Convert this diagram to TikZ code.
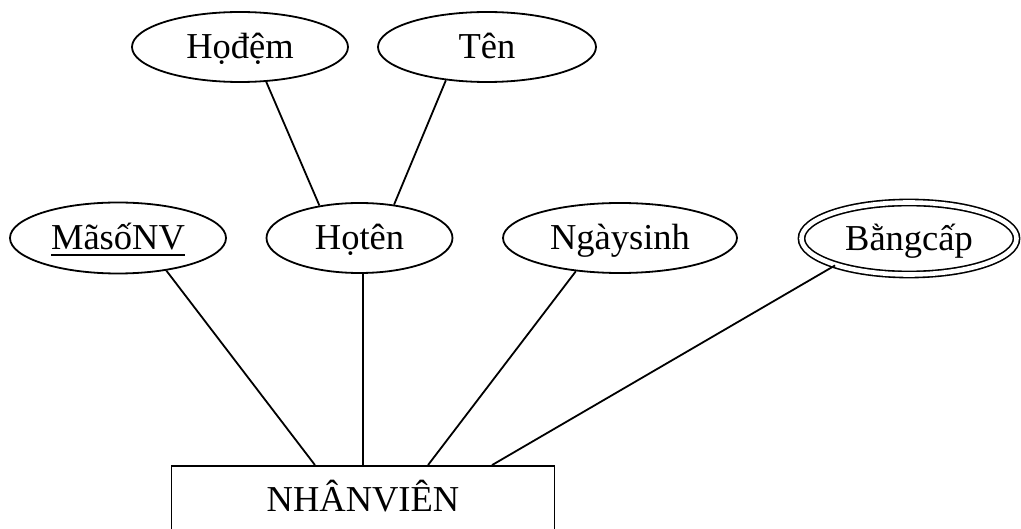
\documentclass[tikz,border=0pt]{standalone}
\usepackage{fontspec}
\setmainfont{Liberation Serif}
\usetikzlibrary{shapes.geometric}
\newcommand\keyline[1]{\setbox0\hbox{#1}\rlap{\rule[-6pt]{\wd0}{1.8pt}}\box0}
\begin{document}
\begin{tikzpicture}[x=1pt,y=-1pt,
  attr/.style={draw, ellipse, line width=1.8pt, inner sep=0pt,
    font=\fontsize{36.5}{40}\selectfont, text height=24pt, text depth=0pt},
  multi/.style={attr, double, line width=1.6pt, double distance=4.6pt},
  ent/.style={draw, rectangle, line width=1.8pt, inner sep=0pt,
    font=\fontsize{36.5}{40}\selectfont, text height=24pt, text depth=0pt},
  link/.style={line width=1.8pt}]
\clip (0,0) rectangle (1021,529);
\node[attr, minimum width=216pt, minimum height=70pt] (hodem) at (240,47) {Họđệm};
\node[attr, minimum width=218pt, minimum height=70pt] (ten) at (487,47) {Tên};
\node[attr, minimum width=216pt, minimum height=71pt] (maso) at (118,238) {\keyline{MãsốNV}};
\node[attr, minimum width=186pt, minimum height=70pt] (hoten) at (359.5,238) {Họtên};
\node[attr, minimum width=234pt, minimum height=70pt] (ngaysinh) at (620,238) {Ngàysinh};
\node[multi, minimum width=215pt, minimum height=72pt] (bangcap) at (909,238.5) {Bằngcấp};
\node[ent, minimum width=383pt, minimum height=67pt] (nv) at (363,499.5) {NHÂNVIÊN};
\draw[link] (hodem.-53) -- (hoten.141);
\draw[link] (ten.-141) -- (hoten.44);
\draw[link] (maso.-34) -- ([xshift=-48pt]nv.north);
\draw[link] (hoten.south -| nv.north) -- (nv.north);
\draw[link] (ngaysinh.-143) -- ([xshift=65pt]nv.north);
\draw[link] (bangcap.-160) -- ([xshift=129pt]nv.north);
\end{tikzpicture}
\end{document}
